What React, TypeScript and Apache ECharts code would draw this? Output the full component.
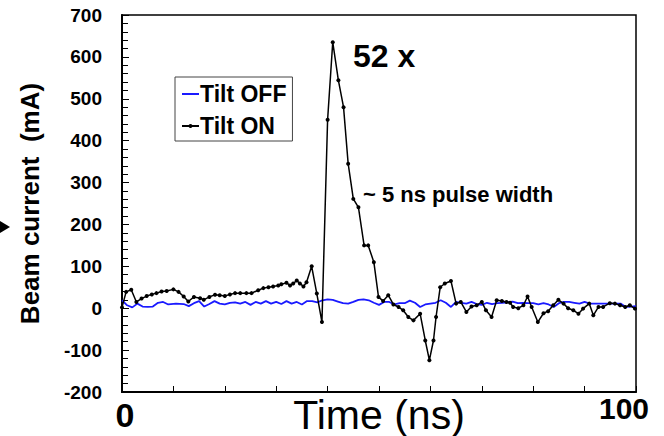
import React, { useEffect, useRef } from "react";
import * as echarts from "echarts";

const seriesNames = ["Tilt OFF", "Tilt ON"];
const xTickLabels: Record<number, string> = { 0: "0", 100: "100" };

// Tilt ON: [time (ns), beam current (mA)]
const tiltOnPoints: [number, number][] = [
  [0, 2], [0.8, 39], [1.8, 44], [2.8, 15], [3.8, 23], [4.8, 29], [5.8, 33], [6.7, 36], [7.7, 40], [8.7, 41],
  [10, 45], [11, 39], [12, 28], [12.9, 16], [14, 27], [15.2, 24], [15.9, 20], [17, 27], [18.1, 32], [19, 31],
  [20, 29], [21, 33], [22, 36], [23, 36], [24.2, 36], [25.2, 36], [26.5, 43], [27.5, 48], [28.5, 50], [29.4, 52],
  [30.4, 54], [31, 57], [32, 61], [32.7, 54], [33.3, 59], [34, 66], [34.6, 59], [35.3, 52], [35.9, 62], [36.9, 100],
  [37.9, 35], [38.9, -33], [40, 450], [41, 635], [42.1, 544], [43.1, 480], [44, 345], [45, 261], [46, 241], [47.1, 150],
  [47.9, 150], [49, 110], [49.9, 27], [50.8, 17], [51.8, 31], [52.8, 9], [53.8, 3], [54.7, -5], [55.7, -21], [56.7, -29],
  [58, -13], [59, -77], [59.8, -124], [60.6, -77], [61.1, -21], [61.9, 50], [62.8, 59], [64, 65], [65, 11], [65.9, 15],
  [67, -9], [68, 4], [69, 7], [70, 15], [70.8, -5], [71.9, -21], [72.9, 19], [73.9, 17], [74.8, 15], [75.5, 13],
  [76.1, 3], [77.1, 0], [78.1, 7], [78.9, 28], [79.7, 3], [80.9, -33], [82, -12], [82.9, -7], [83.9, 7], [84.9, 20],
  [85.9, 11], [86.8, 0], [87.8, -5], [88.8, -13], [89.7, -1], [90.9, 11], [91.7, -17], [92.7, 3], [93.6, 3], [94.9, 12],
  [95.9, 11], [96.9, 7], [97.9, 3], [98.8, 7], [99.8, -1],
];

// Tilt OFF: [time (ns), beam current (mA)]
const tiltOffPoints: [number, number][] = [
  [0, 19], [1, 7], [2, 2], [3, 11], [4, 4], [5, 3], [6, 4], [7, 13], [8, 15], [9, 9],
  [10.5, 11], [12, 10], [13, 5], [14, 12], [15, 17], [16, 4], [17, 10], [18, 17], [19, 11], [20, 9],
  [21, 13], [22, 14], [23, 11], [24, 15], [25, 8], [26, 15], [27, 11], [28, 17], [29, 11], [30, 15],
  [31, 10], [32, 17], [33, 11], [34, 15], [35, 9], [36, 17], [37, 17], [38, 14], [39, 19], [40, 21],
  [41, 20], [42, 16], [43, 12], [44, 11], [45, 15], [46, 20], [47, 21], [48, 19], [49, 13], [50, 8],
  [51, 15], [52, 15], [53, 9], [54, 12], [55, 12], [56, 18], [57, 13], [58, 3], [59, 9], [60, 11],
  [61, 13], [62, 19], [63, 13], [64, 3], [65, 15], [66, 13], [67, 11], [68, 15], [69, 10], [70, 8],
  [71, 13], [72, 10], [73, 12], [74, 13], [75, 14], [76, 16], [77, 12], [78, 13], [79, 12], [80, 12],
  [81, 9], [82, 12], [83, 9], [84, 3], [85, 12], [86, 15], [87, 15], [88, 13], [89, 11], [90, 15],
  [91, 11], [92, 11], [93, 11], [94, 11], [95, 11], [96, 11], [97, 11], [98, 3], [99, 4], [100, 5],
];

const FONT = "'Liberation Sans', Arial, sans-serif";

export default function App() {
  const ref = useRef<HTMLDivElement>(null);
  useEffect(() => {
    if (!ref.current) return;
    const chart = echarts.init(ref.current, undefined, { renderer: "svg" });
    chart.setOption({
      animation: false,
      backgroundColor: "#fff",
      textStyle: { fontFamily: FONT },
      grid: {
        left: 122,
        right: 28,
        top: 15,
        bottom: 44,
        outerBoundsMode: "none",
        containLabel: false,
        show: true,
        borderColor: "#000",
        borderWidth: 1.5,
      },
      legend: {
        data: [
          { name: seriesNames[0], itemStyle: { opacity: 0 } },
          { name: seriesNames[1] },
        ],
        orient: "vertical",
        left: 175,
        top: 77,
        padding: [4, 6, 2, 6],
        itemGap: 6,
        itemWidth: 17,
        itemHeight: 5,
        backgroundColor: "#fff",
        borderColor: "#444",
        borderWidth: 1,
        textStyle: {
          fontFamily: FONT,
          fontSize: 23,
          fontWeight: "bold",
          color: "#000",
          lineHeight: 26,
          padding: [0, 0, 0, -4],
        },
      },
      xAxis: {
        type: "value",
        min: 0,
        max: 100,
        interval: 10,
        name: "Time (ns)",
        nameLocation: "middle",
        nameGap: 2,
        nameMoveOverlap: false,
        nameTextStyle: { fontFamily: FONT, fontSize: 41, lineHeight: 41, color: "#000" },
        axisLine: { show: true, onZero: false, lineStyle: { color: "#000", width: 2 } },
        axisTick: { show: true, inside: true, length: 6, lineStyle: { color: "#000", width: 1 } },
        splitLine: { show: false },
        axisLabel: {
          margin: 1,
          showMinLabel: true,
          showMaxLabel: true,
          formatter: (v: number) =>
            v === 0 ? `{a|${xTickLabels[0]}}` : v === 100 ? `{b|${xTickLabels[100]}}` : "",
          rich: {
            a: { fontFamily: FONT, fontSize: 34, fontWeight: "bold", color: "#000", padding: [5, 0, 0, 6] },
            b: { fontFamily: FONT, fontSize: 30, fontWeight: "bold", color: "#000", padding: [0, 24, 0, 0] },
          },
        },
      },
      yAxis: {
        type: "value",
        min: -200,
        max: 700,
        interval: 100,
        name: "Beam current  (mA)",
        nameLocation: "middle",
        nameGap: 79,
        nameMoveOverlap: false,
        nameTextStyle: { fontFamily: FONT, fontSize: 26, fontWeight: "bold", color: "#000" },
        axisLine: { show: true, onZero: false, lineStyle: { color: "#000", width: 2 } },
        axisTick: { show: true, inside: true, length: 7, lineStyle: { color: "#000", width: 1 } },
        minorTick: { show: true, splitNumber: 5, length: 6, lineStyle: { color: "#000", width: 1 } },
        splitLine: { show: false },
        axisLabel: {
          margin: 20,
          fontFamily: FONT,
          fontSize: 19,
          fontWeight: "bold",
          color: "#000",
        },
      },
      series: [
        {
          name: seriesNames[0],
          type: "line",
          data: tiltOffPoints,
          symbol: "none",
          lineStyle: { color: "#1a1aff", width: 1.8 },
          itemStyle: { color: "#1a1aff" },
          z: 2,
        },
        {
          name: seriesNames[1],
          type: "line",
          data: tiltOnPoints,
          symbol: "circle",
          symbolSize: 4,
          lineStyle: { color: "#000", width: 1.5 },
          itemStyle: { color: "#000" },
          z: 3,
        },
      ],
      graphic: [
        {
          type: "text",
          left: 353,
          top: 40,
          style: { text: "52 x", fontFamily: FONT, fontSize: 32, fontWeight: "bold", fill: "#000" },
        },
        {
          type: "text",
          left: 363,
          top: 183,
          style: { text: "~ 5 ns pulse width", fontFamily: FONT, fontSize: 22, fontWeight: "bold", fill: "#000" },
        },
        {
          type: "polygon",
          shape: { points: [[0, 221], [10, 227], [0, 233]] },
          style: { fill: "#000" },
        },
      ],
    });
    return () => chart.dispose();
  }, []);
  return (
    <div
      ref={ref}
      style={{ position: "fixed", left: 0, top: 0, width: 664, height: 436, background: "#fff" }}
    />
  );
}
